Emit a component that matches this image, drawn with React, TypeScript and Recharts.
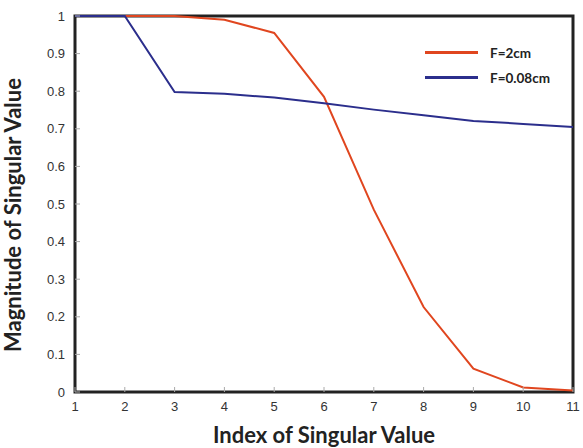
import { Label, Legend, Line, LineChart, ReferenceArea, XAxis, YAxis } from "recharts";

const indices = [1, 2, 3, 4, 5, 6, 7, 8, 9, 10, 11];
const focus2cm = [1, 1, 1, 0.99, 0.955, 0.785, 0.485, 0.226, 0.062, 0.012, 0.004];
const focus008cm = [1, 1, 0.798, 0.793, 0.783, 0.768, 0.751, 0.736, 0.721, 0.713, 0.705];
const yTicks = [0, 0.1, 0.2, 0.3, 0.4, 0.5, 0.6, 0.7, 0.8, 0.9, 1];

const RED = "#e0461f";
const BLUE = "#2b2e8c";

const data = indices.map((index, i) => ({
  index,
  f2: focus2cm[i],
  f008: focus008cm[i],
}));

const legendItems = [
  { name: "F=2cm", color: RED },
  { name: "F=0.08cm", color: BLUE },
];

function SeriesLegend() {
  return (
    <div style={{ fontFamily: "Lato, sans-serif", fontWeight: 700, fontSize: 13.5, color: "#222" }}>
      {legendItems.map((item) => (
        <div key={item.name} style={{ display: "flex", alignItems: "center", height: 25 }}>
          <span style={{ width: 53, height: 3, background: item.color, marginRight: 12 }} />
          <span>{item.name}</span>
        </div>
      ))}
    </div>
  );
}

const tickStyle = { fill: "#333", fontSize: 13, fontFamily: "'Liberation Sans', Arial, sans-serif" };
const tickLineStyle = { stroke: "#aaa", strokeWidth: 1 };
const titleStyle = { fontFamily: "Lato, sans-serif", fontWeight: 700, fontSize: 22, fill: "#222" };

export default function App() {
  return (
    <div style={{ position: "absolute", left: 0, top: 0, background: "#fff" }}>
      <LineChart
        width={583}
        height={448}
        data={data}
        margin={{ top: 16, right: 10, left: 35, bottom: 5 }}
      >
        <XAxis
          dataKey="index"
          type="number"
          domain={[1, 11]}
          ticks={indices}
          height={51}
          axisLine={false}
          tickSize={-5}
          tickMargin={15}
          tickLine={tickLineStyle}
          tick={tickStyle}
        >
          <Label value="Index of Singular Value" position="insideBottom" offset={0} style={titleStyle} />
        </XAxis>
        <XAxis
          xAxisId="top"
          orientation="top"
          type="number"
          domain={[1, 11]}
          ticks={indices}
          height={0}
          axisLine={false}
          tickSize={-5}
          tickLine={tickLineStyle}
          tickFormatter={() => ""}
        />
        <YAxis
          type="number"
          domain={[0, 1]}
          ticks={yTicks}
          width={40}
          axisLine={false}
          tickSize={-5}
          tickMargin={15}
          tickLine={tickLineStyle}
          tick={tickStyle}
          tickFormatter={(v) => String(v)}
        >
          <Label
            value="Magnitude of Singular Value"
            angle={-90}
            position="insideLeft"
            offset={-22}
            dy={11}
            style={{ ...titleStyle, textAnchor: "middle" }}
          />
        </YAxis>
        <YAxis
          yAxisId="right"
          orientation="right"
          type="number"
          domain={[0, 1]}
          ticks={yTicks}
          width={0}
          axisLine={false}
          tickSize={-5}
          tickLine={tickLineStyle}
          tickFormatter={() => ""}
        />
        {/* centred + middle keeps the legend from reserving plot space */}
        <Legend
          layout="horizontal"
          verticalAlign="middle"
          align="center"
          content={<SeriesLegend />}
          wrapperStyle={{ left: 425, top: 40, width: 150 }}
        />
        <Line
          dataKey="f2"
          name="F=2cm"
          stroke={RED}
          strokeWidth={2}
          dot={false}
          isAnimationActive={false}
        />
        <Line
          dataKey="f008"
          name="F=0.08cm"
          stroke={BLUE}
          strokeWidth={2}
          dot={false}
          isAnimationActive={false}
        />
        <ReferenceArea
          x1={1}
          x2={11}
          y1={0}
          y2={1}
          fill="none"
          stroke="#222"
          strokeWidth={3}
          ifOverflow="visible"
        />
      </LineChart>
    </div>
  );
}
